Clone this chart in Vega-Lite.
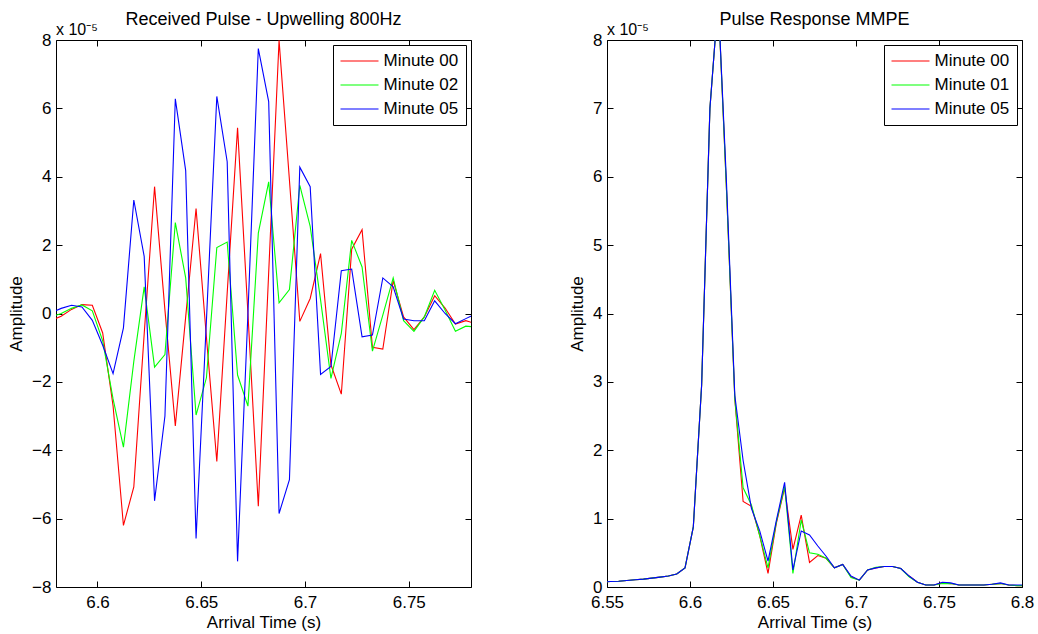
{
"$schema": "https://vega.github.io/schema/vega-lite/v6.json",
"padding": {"left": 7, "top": 10, "right": 5, "bottom": 3},
"spacing": 96,
"config": {
  "font": "Liberation Sans",
  "view": {"stroke": "#000", "strokeWidth": 1},
  "axis": {"grid": false, "domain": false, "offset": -6, "tickSize": 6, "tickColor": "#000", "tickWidth": 1, "labelFontSize": 17, "labelColor": "#000", "labelPadding": 5, "labelFlush": false, "labelOverlap": false, "titleFontSize": 17, "titleFontWeight": "normal", "titleColor": "#000", "titlePadding": 6},
  "axisX": {"labelPadding": 7, "titlePadding": 4},
  "title": {"fontSize": 18, "fontWeight": "normal", "color": "#000", "anchor": "middle", "offset": -6.5},
  "text": {"font": "Liberation Sans"}
},
"datasets": {
"left": [
{"t":6.5775,"s":"Minute 00","a":-0.2},{"t":6.5825,"s":"Minute 00","a":-0.08},{"t":6.5875,"s":"Minute 00","a":0.12},{"t":6.5925,"s":"Minute 00","a":0.26},{"t":6.5975,"s":"Minute 00","a":0.24},{"t":6.6025,"s":"Minute 00","a":-0.57},{"t":6.6075,"s":"Minute 00","a":-2.7},{"t":6.6125,"s":"Minute 00","a":-6.2},{"t":6.6175,"s":"Minute 00","a":-5.07},{"t":6.6225,"s":"Minute 00","a":-0.6},{"t":6.6275,"s":"Minute 00","a":3.71},{"t":6.6325,"s":"Minute 00","a":0.1},{"t":6.6375,"s":"Minute 00","a":-3.29},{"t":6.6425,"s":"Minute 00","a":-0.1},{"t":6.6475,"s":"Minute 00","a":3.07},{"t":6.6525,"s":"Minute 00","a":-0.7},{"t":6.6575,"s":"Minute 00","a":-4.33},{"t":6.6625,"s":"Minute 00","a":0.6},{"t":6.6675,"s":"Minute 00","a":5.43},{"t":6.6725,"s":"Minute 00","a":0.0},{"t":6.6775,"s":"Minute 00","a":-5.64},{"t":6.6825,"s":"Minute 00","a":1.2},{"t":6.6875,"s":"Minute 00","a":7.99},{"t":6.6925,"s":"Minute 00","a":3.9},{"t":6.6975,"s":"Minute 00","a":-0.23},{"t":6.7025,"s":"Minute 00","a":0.44},{"t":6.7075,"s":"Minute 00","a":1.75},{"t":6.7125,"s":"Minute 00","a":-1.5},{"t":6.7175,"s":"Minute 00","a":-2.36},{"t":6.7225,"s":"Minute 00","a":1.88},{"t":6.7275,"s":"Minute 00","a":2.45},{"t":6.7325,"s":"Minute 00","a":-0.99},{"t":6.7375,"s":"Minute 00","a":-1.04},{"t":6.7425,"s":"Minute 00","a":0.96},{"t":6.7475,"s":"Minute 00","a":-0.1},{"t":6.7525,"s":"Minute 00","a":-0.47},{"t":6.7575,"s":"Minute 00","a":-0.1},{"t":6.7625,"s":"Minute 00","a":0.52},{"t":6.7675,"s":"Minute 00","a":0.16},{"t":6.7725,"s":"Minute 00","a":-0.31},{"t":6.7775,"s":"Minute 00","a":-0.21},{"t":6.7825,"s":"Minute 00","a":-0.3},
{"t":6.5775,"s":"Minute 02","a":-0.1},{"t":6.5825,"s":"Minute 02","a":0.0},{"t":6.5875,"s":"Minute 02","a":0.15},{"t":6.5925,"s":"Minute 02","a":0.25},{"t":6.5975,"s":"Minute 02","a":0.08},{"t":6.6025,"s":"Minute 02","a":-0.8},{"t":6.6075,"s":"Minute 02","a":-2.5},{"t":6.6125,"s":"Minute 02","a":-3.91},{"t":6.6175,"s":"Minute 02","a":-1.4},{"t":6.6225,"s":"Minute 02","a":0.78},{"t":6.6275,"s":"Minute 02","a":-1.57},{"t":6.6325,"s":"Minute 02","a":-1.2},{"t":6.6375,"s":"Minute 02","a":2.66},{"t":6.6425,"s":"Minute 02","a":1.04},{"t":6.6475,"s":"Minute 02","a":-2.97},{"t":6.6525,"s":"Minute 02","a":-1.88},{"t":6.6575,"s":"Minute 02","a":1.93},{"t":6.6625,"s":"Minute 02","a":2.09},{"t":6.6675,"s":"Minute 02","a":-1.8},{"t":6.6725,"s":"Minute 02","a":-2.71},{"t":6.6775,"s":"Minute 02","a":2.35},{"t":6.6825,"s":"Minute 02","a":3.85},{"t":6.6875,"s":"Minute 02","a":0.31},{"t":6.6925,"s":"Minute 02","a":0.7},{"t":6.6975,"s":"Minute 02","a":3.75},{"t":6.7025,"s":"Minute 02","a":2.55},{"t":6.7075,"s":"Minute 02","a":0.4},{"t":6.7125,"s":"Minute 02","a":-1.9},{"t":6.7175,"s":"Minute 02","a":-0.58},{"t":6.7225,"s":"Minute 02","a":2.14},{"t":6.7275,"s":"Minute 02","a":1.36},{"t":6.7325,"s":"Minute 02","a":-1.1},{"t":6.7375,"s":"Minute 02","a":-0.05},{"t":6.7425,"s":"Minute 02","a":1.04},{"t":6.7475,"s":"Minute 02","a":-0.21},{"t":6.7525,"s":"Minute 02","a":-0.52},{"t":6.7575,"s":"Minute 02","a":-0.1},{"t":6.7625,"s":"Minute 02","a":0.68},{"t":6.7675,"s":"Minute 02","a":0.1},{"t":6.7725,"s":"Minute 02","a":-0.52},{"t":6.7775,"s":"Minute 02","a":-0.37},{"t":6.7825,"s":"Minute 02","a":-0.4},
{"t":6.5775,"s":"Minute 05","a":0.02},{"t":6.5825,"s":"Minute 05","a":0.15},{"t":6.5875,"s":"Minute 05","a":0.24},{"t":6.5925,"s":"Minute 05","a":0.19},{"t":6.5975,"s":"Minute 05","a":-0.2},{"t":6.6025,"s":"Minute 05","a":-0.93},{"t":6.6075,"s":"Minute 05","a":-1.76},{"t":6.6125,"s":"Minute 05","a":-0.42},{"t":6.6175,"s":"Minute 05","a":3.32},{"t":6.6225,"s":"Minute 05","a":1.67},{"t":6.6275,"s":"Minute 05","a":-5.48},{"t":6.6325,"s":"Minute 05","a":-3.0},{"t":6.6375,"s":"Minute 05","a":6.28},{"t":6.6425,"s":"Minute 05","a":4.18},{"t":6.6475,"s":"Minute 05","a":-6.58},{"t":6.6525,"s":"Minute 05","a":-0.2},{"t":6.6575,"s":"Minute 05","a":6.35},{"t":6.6625,"s":"Minute 05","a":4.44},{"t":6.6675,"s":"Minute 05","a":-7.25},{"t":6.6725,"s":"Minute 05","a":0.0},{"t":6.6775,"s":"Minute 05","a":7.75},{"t":6.6825,"s":"Minute 05","a":6.2},{"t":6.6875,"s":"Minute 05","a":-5.85},{"t":6.6925,"s":"Minute 05","a":-4.86},{"t":6.6975,"s":"Minute 05","a":4.28},{"t":6.7025,"s":"Minute 05","a":3.71},{"t":6.7075,"s":"Minute 05","a":-1.78},{"t":6.7125,"s":"Minute 05","a":-1.55},{"t":6.7175,"s":"Minute 05","a":1.25},{"t":6.7225,"s":"Minute 05","a":1.3},{"t":6.7275,"s":"Minute 05","a":-0.68},{"t":6.7325,"s":"Minute 05","a":-0.63},{"t":6.7375,"s":"Minute 05","a":1.04},{"t":6.7425,"s":"Minute 05","a":0.78},{"t":6.7475,"s":"Minute 05","a":-0.16},{"t":6.7525,"s":"Minute 05","a":-0.21},{"t":6.7575,"s":"Minute 05","a":-0.21},{"t":6.7625,"s":"Minute 05","a":0.37},{"t":6.7675,"s":"Minute 05","a":0.0},{"t":6.7725,"s":"Minute 05","a":-0.3},{"t":6.7775,"s":"Minute 05","a":-0.15},{"t":6.7825,"s":"Minute 05","a":0.0}
],
"right": [
{"t":6.547,"s":"Minute 00","a":0.07},{"t":6.552,"s":"Minute 00","a":0.08},{"t":6.557,"s":"Minute 00","a":0.085},{"t":6.562,"s":"Minute 00","a":0.095},{"t":6.567,"s":"Minute 00","a":0.105},{"t":6.572,"s":"Minute 00","a":0.115},{"t":6.577,"s":"Minute 00","a":0.13},{"t":6.582,"s":"Minute 00","a":0.145},{"t":6.587,"s":"Minute 00","a":0.16},{"t":6.592,"s":"Minute 00","a":0.19},{"t":6.597,"s":"Minute 00","a":0.28},{"t":6.602,"s":"Minute 00","a":0.88},{"t":6.607,"s":"Minute 00","a":2.95},{"t":6.612,"s":"Minute 00","a":7.0},{"t":6.617,"s":"Minute 00","a":8.6},{"t":6.622,"s":"Minute 00","a":5.8},{"t":6.627,"s":"Minute 00","a":2.75},{"t":6.632,"s":"Minute 00","a":1.25},{"t":6.637,"s":"Minute 00","a":1.18},{"t":6.642,"s":"Minute 00","a":0.75},{"t":6.647,"s":"Minute 00","a":0.2},{"t":6.652,"s":"Minute 00","a":0.93},{"t":6.657,"s":"Minute 00","a":1.45},{"t":6.662,"s":"Minute 00","a":0.55},{"t":6.667,"s":"Minute 00","a":1.05},{"t":6.672,"s":"Minute 00","a":0.36},{"t":6.677,"s":"Minute 00","a":0.46},{"t":6.682,"s":"Minute 00","a":0.42},{"t":6.687,"s":"Minute 00","a":0.28},{"t":6.692,"s":"Minute 00","a":0.33},{"t":6.697,"s":"Minute 00","a":0.15},{"t":6.702,"s":"Minute 00","a":0.1},{"t":6.707,"s":"Minute 00","a":0.25},{"t":6.712,"s":"Minute 00","a":0.28},{"t":6.717,"s":"Minute 00","a":0.3},{"t":6.722,"s":"Minute 00","a":0.3},{"t":6.727,"s":"Minute 00","a":0.27},{"t":6.732,"s":"Minute 00","a":0.16},{"t":6.737,"s":"Minute 00","a":0.07},{"t":6.742,"s":"Minute 00","a":0.03},{"t":6.747,"s":"Minute 00","a":0.03},{"t":6.752,"s":"Minute 00","a":0.06},{"t":6.757,"s":"Minute 00","a":0.05},{"t":6.762,"s":"Minute 00","a":0.03},{"t":6.767,"s":"Minute 00","a":0.03},{"t":6.772,"s":"Minute 00","a":0.03},{"t":6.777,"s":"Minute 00","a":0.03},{"t":6.782,"s":"Minute 00","a":0.04},{"t":6.787,"s":"Minute 00","a":0.05},{"t":6.792,"s":"Minute 00","a":0.03},{"t":6.797,"s":"Minute 00","a":0.02},{"t":6.802,"s":"Minute 00","a":0.02},
{"t":6.547,"s":"Minute 01","a":0.07},{"t":6.552,"s":"Minute 01","a":0.08},{"t":6.557,"s":"Minute 01","a":0.085},{"t":6.562,"s":"Minute 01","a":0.095},{"t":6.567,"s":"Minute 01","a":0.105},{"t":6.572,"s":"Minute 01","a":0.115},{"t":6.577,"s":"Minute 01","a":0.13},{"t":6.582,"s":"Minute 01","a":0.145},{"t":6.587,"s":"Minute 01","a":0.16},{"t":6.592,"s":"Minute 01","a":0.19},{"t":6.597,"s":"Minute 01","a":0.28},{"t":6.602,"s":"Minute 01","a":0.88},{"t":6.607,"s":"Minute 01","a":2.95},{"t":6.612,"s":"Minute 01","a":7.0},{"t":6.617,"s":"Minute 01","a":8.6},{"t":6.622,"s":"Minute 01","a":5.8},{"t":6.627,"s":"Minute 01","a":2.75},{"t":6.632,"s":"Minute 01","a":1.45},{"t":6.637,"s":"Minute 01","a":1.2},{"t":6.642,"s":"Minute 01","a":0.75},{"t":6.647,"s":"Minute 01","a":0.28},{"t":6.652,"s":"Minute 01","a":0.95},{"t":6.657,"s":"Minute 01","a":1.47},{"t":6.662,"s":"Minute 01","a":0.2},{"t":6.667,"s":"Minute 01","a":0.98},{"t":6.672,"s":"Minute 01","a":0.5},{"t":6.677,"s":"Minute 01","a":0.48},{"t":6.682,"s":"Minute 01","a":0.42},{"t":6.687,"s":"Minute 01","a":0.28},{"t":6.692,"s":"Minute 01","a":0.33},{"t":6.697,"s":"Minute 01","a":0.14},{"t":6.702,"s":"Minute 01","a":0.1},{"t":6.707,"s":"Minute 01","a":0.25},{"t":6.712,"s":"Minute 01","a":0.29},{"t":6.717,"s":"Minute 01","a":0.3},{"t":6.722,"s":"Minute 01","a":0.3},{"t":6.727,"s":"Minute 01","a":0.27},{"t":6.732,"s":"Minute 01","a":0.15},{"t":6.737,"s":"Minute 01","a":0.07},{"t":6.742,"s":"Minute 01","a":0.03},{"t":6.747,"s":"Minute 01","a":0.03},{"t":6.752,"s":"Minute 01","a":0.05},{"t":6.757,"s":"Minute 01","a":0.05},{"t":6.762,"s":"Minute 01","a":0.03},{"t":6.767,"s":"Minute 01","a":0.03},{"t":6.772,"s":"Minute 01","a":0.03},{"t":6.777,"s":"Minute 01","a":0.03},{"t":6.782,"s":"Minute 01","a":0.04},{"t":6.787,"s":"Minute 01","a":0.05},{"t":6.792,"s":"Minute 01","a":0.03},{"t":6.797,"s":"Minute 01","a":0.02},{"t":6.802,"s":"Minute 01","a":0.02},
{"t":6.547,"s":"Minute 05","a":0.07},{"t":6.552,"s":"Minute 05","a":0.08},{"t":6.557,"s":"Minute 05","a":0.085},{"t":6.562,"s":"Minute 05","a":0.095},{"t":6.567,"s":"Minute 05","a":0.105},{"t":6.572,"s":"Minute 05","a":0.115},{"t":6.577,"s":"Minute 05","a":0.13},{"t":6.582,"s":"Minute 05","a":0.145},{"t":6.587,"s":"Minute 05","a":0.16},{"t":6.592,"s":"Minute 05","a":0.19},{"t":6.597,"s":"Minute 05","a":0.28},{"t":6.602,"s":"Minute 05","a":0.88},{"t":6.607,"s":"Minute 05","a":2.95},{"t":6.612,"s":"Minute 05","a":7.0},{"t":6.617,"s":"Minute 05","a":8.6},{"t":6.622,"s":"Minute 05","a":5.9},{"t":6.627,"s":"Minute 05","a":2.8},{"t":6.632,"s":"Minute 05","a":1.85},{"t":6.637,"s":"Minute 05","a":1.15},{"t":6.642,"s":"Minute 05","a":0.82},{"t":6.647,"s":"Minute 05","a":0.38},{"t":6.652,"s":"Minute 05","a":0.97},{"t":6.657,"s":"Minute 05","a":1.53},{"t":6.662,"s":"Minute 05","a":0.25},{"t":6.667,"s":"Minute 05","a":0.82},{"t":6.672,"s":"Minute 05","a":0.76},{"t":6.677,"s":"Minute 05","a":0.6},{"t":6.682,"s":"Minute 05","a":0.45},{"t":6.687,"s":"Minute 05","a":0.28},{"t":6.692,"s":"Minute 05","a":0.33},{"t":6.697,"s":"Minute 05","a":0.16},{"t":6.702,"s":"Minute 05","a":0.1},{"t":6.707,"s":"Minute 05","a":0.25},{"t":6.712,"s":"Minute 05","a":0.28},{"t":6.717,"s":"Minute 05","a":0.3},{"t":6.722,"s":"Minute 05","a":0.3},{"t":6.727,"s":"Minute 05","a":0.27},{"t":6.732,"s":"Minute 05","a":0.16},{"t":6.737,"s":"Minute 05","a":0.07},{"t":6.742,"s":"Minute 05","a":0.03},{"t":6.747,"s":"Minute 05","a":0.03},{"t":6.752,"s":"Minute 05","a":0.07},{"t":6.757,"s":"Minute 05","a":0.06},{"t":6.762,"s":"Minute 05","a":0.03},{"t":6.767,"s":"Minute 05","a":0.03},{"t":6.772,"s":"Minute 05","a":0.03},{"t":6.777,"s":"Minute 05","a":0.03},{"t":6.782,"s":"Minute 05","a":0.04},{"t":6.787,"s":"Minute 05","a":0.06},{"t":6.792,"s":"Minute 05","a":0.03},{"t":6.797,"s":"Minute 05","a":0.03},{"t":6.802,"s":"Minute 05","a":0.03}
]
},
"hconcat": [
{
  "width": 415, "height": 547,
  "title": {"text": "Received Pulse - Upwelling 800Hz"},
  "layer": [
    {"data": {"name": "left"},
     "mark": {"type": "line", "clip": true, "strokeWidth": 1.1},
     "encoding": {
       "x": {"field": "t", "type": "quantitative", "scale": {"domain": [6.58, 6.78], "nice": false, "zero": false}, "axis": {"values": [6.6, 6.65, 6.7, 6.75], "format": ".2~f", "title": "Arrival Time (s)"}},
       "y": {"field": "a", "type": "quantitative", "scale": {"domain": [-8, 8], "nice": false, "zero": false}, "axis": {"values": [-8, -6, -4, -2, 0, 2, 4, 6, 8], "format": "d", "title": "Amplitude"}},
       "color": {"field": "s", "type": "nominal", "scale": {"domain": ["Minute 00", "Minute 02", "Minute 05"], "range": ["#ff0000", "#00ff00", "#0000ff"]},
         "legend": {"title": null, "orient": "top-right", "offset": 5, "strokeColor": "#000", "fillColor": "#fff", "padding": 7.5, "labelFontSize": 17, "labelColor": "#000", "labelFont": "Liberation Sans", "symbolType": "M-3.8,0H3.8", "symbolSize": 100, "symbolStrokeWidth": 1.2, "rowPadding": 6, "symbolOffset": 10.5, "labelOffset": 15.5}}
     }},
    {"data": {"name": "left"},
     "mark": {"type": "line", "clip": true, "strokeOpacity": 0},
     "encoding": {
       "x": {"field": "t", "type": "quantitative", "scale": {"domain": [6.58, 6.78], "nice": false, "zero": false}, "axis": {"orient": "top", "values": [6.6, 6.65, 6.7, 6.75], "labels": false, "title": null}},
       "y": {"field": "a", "type": "quantitative", "scale": {"domain": [-8, 8], "nice": false, "zero": false}, "axis": {"orient": "right", "values": [-8, -6, -4, -2, 0, 2, 4, 6, 8], "labels": false, "title": null}}
     }},
    {"data": {"values": [{"t": 6.58, "a": 8, "label": "x 10⁻⁵"}]},
     "mark": {"type": "text", "align": "left", "baseline": "alphabetic", "dy": -5, "fontSize": 16, "color": "#000"},
     "encoding": {
       "x": {"field": "t", "type": "quantitative", "scale": {"domain": [6.58, 6.78], "nice": false, "zero": false}, "axis": null},
       "y": {"field": "a", "type": "quantitative", "scale": {"domain": [-8, 8], "nice": false, "zero": false}, "axis": null},
       "text": {"field": "label"}
     }}
  ],
  "resolve": {"axis": {"x": "independent", "y": "independent"}}
},
{
  "width": 415, "height": 547,
  "title": {"text": "Pulse Response MMPE"},
  "layer": [
    {"data": {"name": "right"},
     "mark": {"type": "line", "clip": true, "strokeWidth": 1.1},
     "encoding": {
       "x": {"field": "t", "type": "quantitative", "scale": {"domain": [6.55, 6.8], "nice": false, "zero": false}, "axis": {"values": [6.55, 6.6, 6.65, 6.7, 6.75, 6.8], "format": ".2~f", "title": "Arrival Time (s)"}},
       "y": {"field": "a", "type": "quantitative", "scale": {"domain": [0, 8], "nice": false, "zero": false}, "axis": {"values": [0, 1, 2, 3, 4, 5, 6, 7, 8], "format": "d", "title": "Amplitude"}},
       "color": {"field": "s", "type": "nominal", "scale": {"domain": ["Minute 00", "Minute 01", "Minute 05"], "range": ["#ff0000", "#00ff00", "#0000ff"]},
         "legend": {"title": null, "orient": "top-right", "offset": 5, "strokeColor": "#000", "fillColor": "#fff", "padding": 7.5, "labelFontSize": 17, "labelColor": "#000", "labelFont": "Liberation Sans", "symbolType": "M-3.8,0H3.8", "symbolSize": 100, "symbolStrokeWidth": 1.2, "rowPadding": 6, "symbolOffset": 10.5, "labelOffset": 15.5}}
     }},
    {"data": {"name": "right"},
     "mark": {"type": "line", "clip": true, "strokeOpacity": 0},
     "encoding": {
       "x": {"field": "t", "type": "quantitative", "scale": {"domain": [6.55, 6.8], "nice": false, "zero": false}, "axis": {"orient": "top", "values": [6.55, 6.6, 6.65, 6.7, 6.75, 6.8], "labels": false, "title": null}},
       "y": {"field": "a", "type": "quantitative", "scale": {"domain": [0, 8], "nice": false, "zero": false}, "axis": {"orient": "right", "values": [0, 1, 2, 3, 4, 5, 6, 7, 8], "labels": false, "title": null}}
     }},
    {"data": {"values": [{"t": 6.55, "a": 8, "label": "x 10⁻⁵"}]},
     "mark": {"type": "text", "align": "left", "baseline": "alphabetic", "dy": -5, "fontSize": 16, "color": "#000"},
     "encoding": {
       "x": {"field": "t", "type": "quantitative", "scale": {"domain": [6.55, 6.8], "nice": false, "zero": false}, "axis": null},
       "y": {"field": "a", "type": "quantitative", "scale": {"domain": [0, 8], "nice": false, "zero": false}, "axis": null},
       "text": {"field": "label"}
     }}
  ],
  "resolve": {"axis": {"x": "independent", "y": "independent"}}
}
],
"resolve": {"scale": {"color": "independent"}, "legend": {"color": "independent"}}
}
